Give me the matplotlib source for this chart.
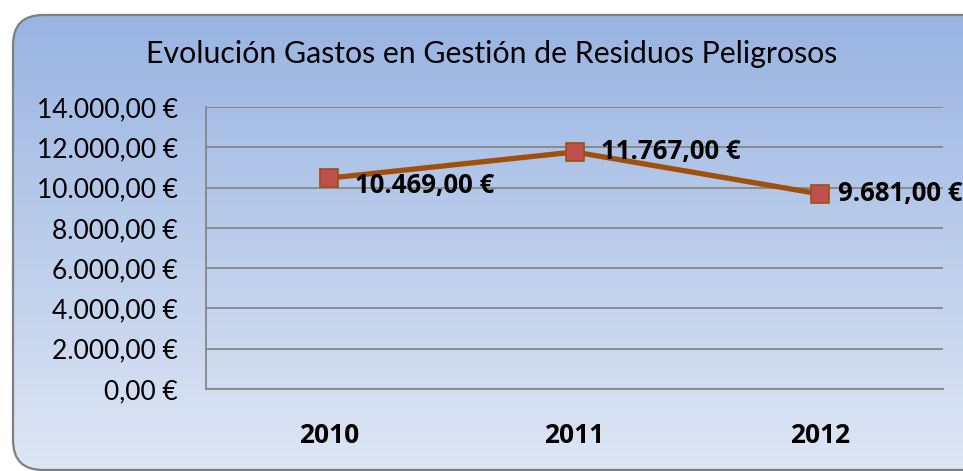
import numpy as np
import matplotlib
matplotlib.use("Agg")
import matplotlib.pyplot as plt
from matplotlib.patches import FancyBboxPatch
from matplotlib.ticker import FuncFormatter, MultipleLocator

years = ["2010", "2011", "2012"]
gastos = [10469.00, 11767.00, 9681.00]
title = "Evolución Gastos en Gestión de Residuos Peligrosos"


def euro(v):
    # 10469 -> "10.469,00 €"
    s = "{:,.2f}".format(v)
    s = s.replace(",", "X").replace(".", ",").replace("X", ".")
    return s + " €"


W, H = 963, 471
fig = plt.figure(figsize=(W / 100, H / 100), dpi=100)
fig.patch.set_facecolor("white")

# background with rounded frame and vertical gradient
bg = fig.add_axes([0, 0, 1, 1])
bg.set_xlim(0, W)
bg.set_ylim(H, 0)
bg.axis("off")
box = FancyBboxPatch((13, 15), 980, 455, boxstyle="round,pad=0,rounding_size=30",
                     facecolor="none", edgecolor="#7f7f7f", linewidth=1.6, zorder=3)
bg.add_patch(box)
top_c = np.array([0x98, 0xB4, 0xE2]) / 255
bot_c = np.array([0xDE, 0xE6, 0xF4]) / 255
t = np.linspace(0, 1, 256)[:, None]
grad = (top_c[None, :] * (1 - t) + bot_c[None, :] * t)[:, None, :]
im = bg.imshow(grad, extent=[13, 993, 470, 15], aspect="auto", zorder=1)
im.set_clip_path(box)

bg.text(492, 54, title, fontsize=21.8, family="Lato", ha="center", va="center", zorder=4)

ax = fig.add_axes([206 / W, 1 - 389 / H, (943 - 206) / W, (389 - 107) / H])
ax.patch.set_alpha(0)
x = np.arange(len(years))
ax.plot(x, gastos, color="#A14F0C", linewidth=3.8, marker="s", markersize=13,
        markerfacecolor="#C0504D", markeredgecolor="#A14F0C", markeredgewidth=1.2,
        zorder=5)
# label offsets as placed in the original (last one hugs the edge)
offsets = [(19, -5), (19, 0), (13, 0)]
for xi, v, off in zip(x, gastos, offsets):
    ax.annotate(euro(v), (xi, v), xytext=off, textcoords="offset points",
                ha="left", va="center", fontsize=18.5, fontweight="bold",
                family="Open Sans", zorder=6, annotation_clip=False)

ax.set_xlim(-0.5, len(years) - 0.5)
ax.set_ylim(0, 14000)
ax.yaxis.set_major_locator(MultipleLocator(2000))
ax.yaxis.set_major_formatter(FuncFormatter(lambda v, p: euro(v)))
ax.set_xticks(x)
ax.set_xticklabels(years, fontsize=19, fontweight="bold", family="Open Sans")
for lab in ax.get_yticklabels():
    lab.set_family("Lato")
    lab.set_fontsize(19)
ax.tick_params(axis="both", length=0)
ax.tick_params(axis="y", pad=20)
ax.tick_params(axis="x", pad=24)
ax.grid(axis="y", color="#868686", linewidth=1.3)
ax.set_axisbelow(True)
for s in ["top", "right"]:
    ax.spines[s].set_visible(False)
for s in ["left", "bottom"]:
    ax.spines[s].set_color("#868686")
    ax.spines[s].set_linewidth(1.3)

fig.savefig("out.png", dpi=100)
